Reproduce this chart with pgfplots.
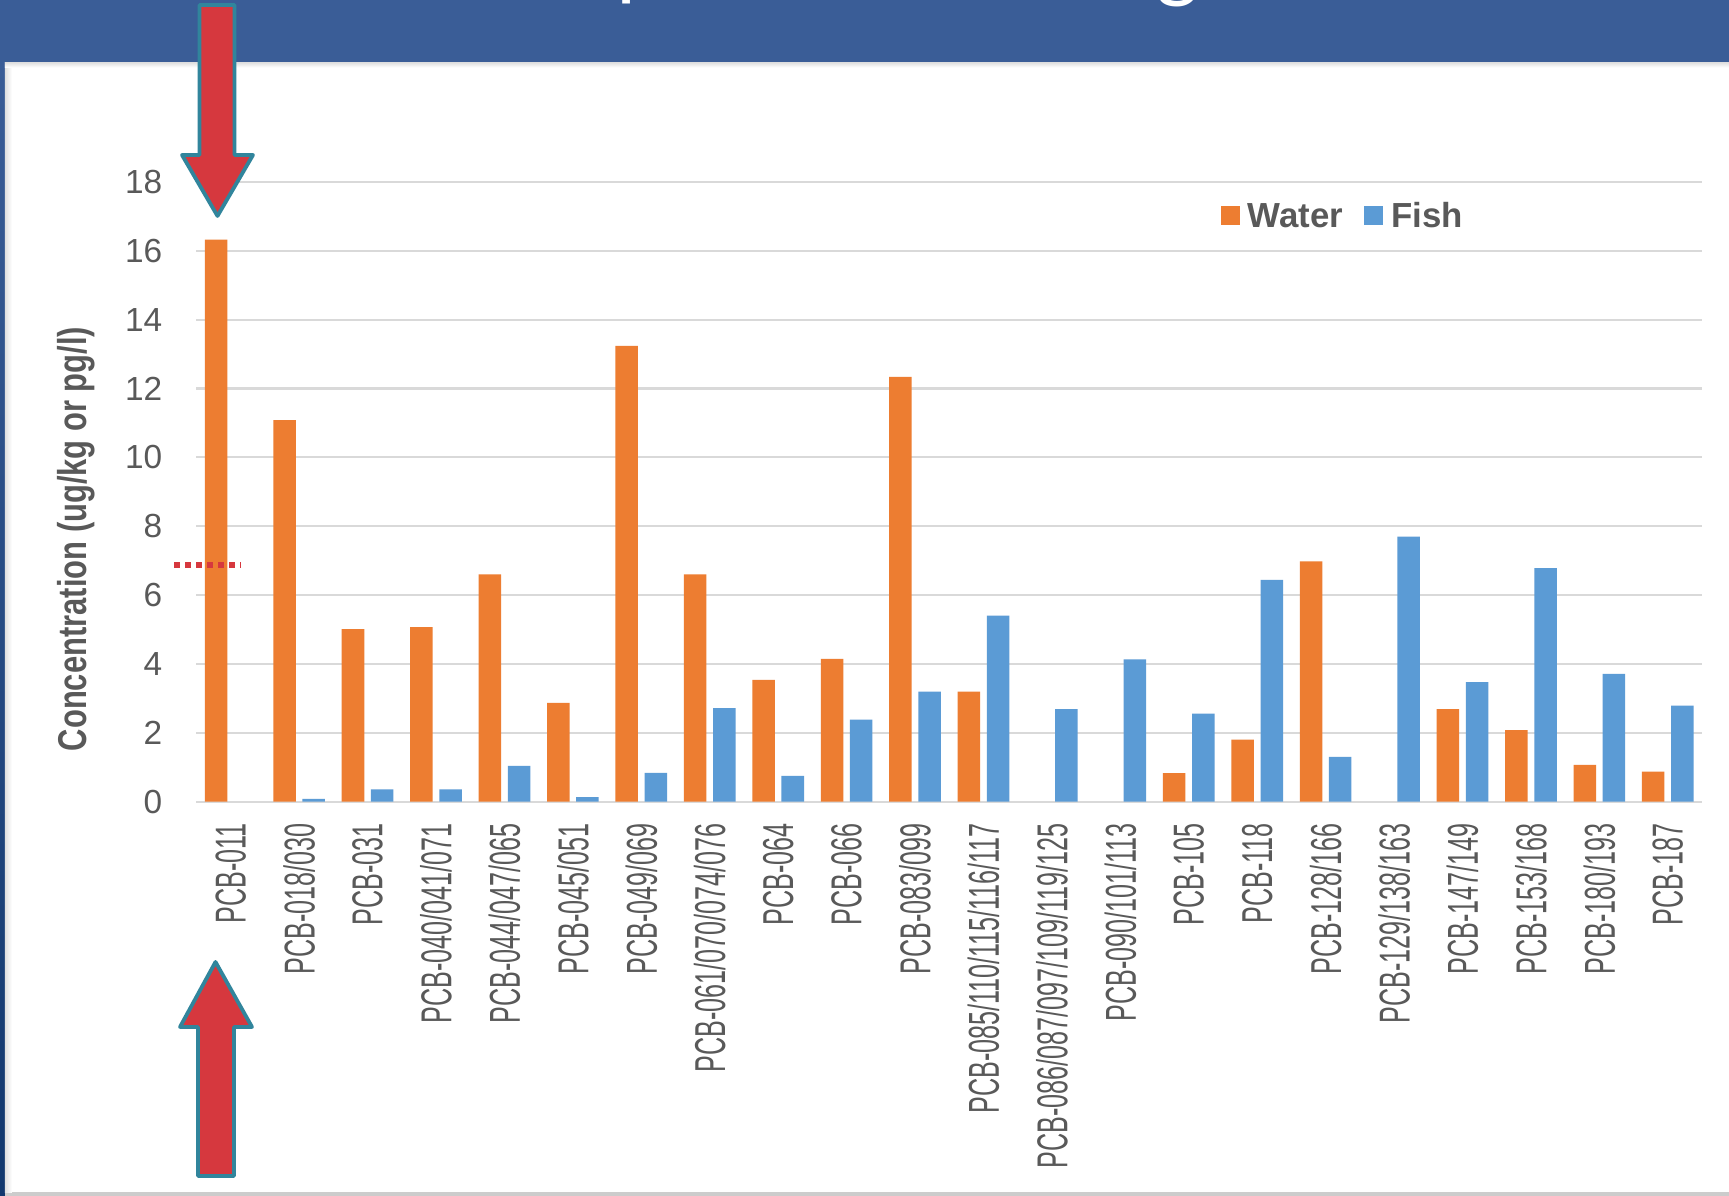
\documentclass[border=0pt]{standalone}
\usepackage{fontspec}
\setmainfont{Liberation Sans}
\newfontfamily\titlefont{Carlito}
\usepackage{graphicx}
\usepackage{pgfplots}
\pgfplotsset{compat=1.18}

\definecolor{slideblue}{HTML}{3A5D97}
\definecolor{slidenavy}{HTML}{12386E}
\definecolor{waterorange}{HTML}{ED7D31}
\definecolor{fishblue}{HTML}{5B9BD5}
\definecolor{gridgrey}{HTML}{D9D9D9}
\definecolor{labelgrey}{HTML}{595959}
\definecolor{arrowred}{HTML}{D6383E}
\definecolor{arrowteal}{HTML}{31859C}

% congener names are set tall and narrow
\newcommand\xl[1]{\scalebox{1}[1.72]{#1}}

\begin{document}
\begin{tikzpicture}[x=1mm,y=1mm]
\useasboundingbox (0,0) rectangle (172.9,119.6);
\clip (0,0) rectangle (172.9,119.6);

% slide background and white content panel
\fill[slideblue] (0,0) rectangle (172.9,119.6);
\shade[top color=slideblue, bottom color=slidenavy] (0,0) rectangle (0.5,113.4);
\fill[black!20] (0.5,0) rectangle (172.9,0.35);
\fill[white] (0.5,0.35) rectangle (172.9,113.33);
\shade[left color=black!12, right color=white] (0.5,0.35) rectangle (1.2,113.33);
\shade[top color=black!12, bottom color=white] (0.5,112.85) rectangle (172.9,113.33);

% slide title (only its lowest strokes fall inside the frame)
\node[anchor=base west, inner sep=0pt, text=white, font=\titlefont\fontsize{25.6}{30}\selectfont] at (61.6,120.6) {p};
\node[anchor=base west, inner sep=0pt, text=white, font=\titlefont\fontsize{25.6}{30}\selectfont] at (115.6,120.4) {g};

\begin{axis}[
  at={(19.65mm,39.43mm)}, anchor=south west,
  scale only axis, width=150.55mm, height=61.98mm,
  xmin=-0.5, xmax=21.5, ymin=0, ymax=18,
  axis line style={draw=none},
  major tick length=0pt,
  ytick={0,2,...,18},
  ymajorgrids, grid style={gridgrey, line width=0.22mm},
  xtick={0,...,21},
  xticklabels={\xl{PCB-011},\xl{PCB-018/030},\xl{PCB-031},\xl{PCB-040/041/071},
    \xl{PCB-044/047/065},\xl{PCB-045/051},\xl{PCB-049/069},\xl{PCB-061/070/074/076},
    \xl{PCB-064},\xl{PCB-066},\xl{PCB-083/099},\xl{PCB-085/110/115/116/117},
    \xl{PCB-086/087/097/109/119/125},\xl{PCB-090/101/113},\xl{PCB-105},\xl{PCB-118},
    \xl{PCB-128/166},\xl{PCB-129/138/163},\xl{PCB-147/149},\xl{PCB-153/168},
    \xl{PCB-180/193},\xl{PCB-187}},
  x tick label style={yshift=-2.1mm, rotate=90, anchor=east, inner sep=0pt,
    font=\fontsize{7.15}{8}\selectfont, text=labelgrey},
  y tick label style={xshift=-3.35mm, anchor=east, inner sep=0pt,
    font=\fontsize{9.5}{10}\selectfont, text=labelgrey},
  /pgf/number format/assume math mode=true,
  ylabel={\scalebox{1}[1.3]{Concentration (ug/kg or pg/l)}},
  ylabel style={at={(rel axis cs:-0.0797,0.4239)}, anchor=center, inner sep=0pt,
    font=\bfseries\fontsize{8.8}{10}\selectfont, text=labelgrey},
  legend columns=2,
  legend style={at={(rel axis cs:0.6805,0.9418)}, anchor=west, draw=none, fill=none,
    inner sep=0pt, outer sep=0pt, font=\bfseries\fontsize{9.9}{11}\selectfont,
    text=labelgrey, column sep=0.8mm,
    /tikz/every even column/.append style={column sep=2.1mm},
    nodes={inner sep=0pt}},
  legend image code/.code={\path[#1] (0mm,-0.75mm) rectangle (1.9mm,1.15mm);},
  clip=false,
]
% water concentrations (pg/l)
\addplot[ybar, bar width=0.329, bar shift=-0.213, fill=waterorange, draw=none]
  coordinates {(0,16.32) (1,11.08) (2,5.01) (3,5.07) (4,6.60) (5,2.87) (6,13.24)
    (7,6.60) (8,3.54) (9,4.15) (10,12.34) (11,3.20) (14,0.83) (15,1.80) (16,6.98)
    (18,2.69) (19,2.08) (20,1.07) (21,0.87)};
\addlegendentry{Water}
% fish concentrations (ug/kg)
\addplot[ybar, bar width=0.329, bar shift=0.213, fill=fishblue, draw=none]
  coordinates {(1,0.08) (2,0.36) (3,0.36) (4,1.04) (5,0.13) (6,0.84) (7,2.72)
    (8,0.75) (9,2.38) (10,3.20) (11,5.40) (12,2.69) (13,4.13) (14,2.56) (15,6.44)
    (16,1.30) (17,7.70) (18,3.47) (19,6.78) (20,3.71) (21,2.79)};
\addlegendentry{Fish}
% reference level marked at the left edge
\addplot[arrowred, line width=0.55mm, dash pattern=on 0.6mm off 0.5mm, forget plot]
  coordinates {(-0.825,6.88) (0.149,6.88)};
\end{axis}

% highlight arrows on the first congener
\draw[arrowteal, line width=0.38mm, line join=round, fill=arrowred]
  (19.95,119.1) -- (19.95,104.1) -- (18.2,104.1) -- (21.75,98.0) -- (25.3,104.1)
  -- (23.45,104.1) -- (23.45,119.1) -- cycle;
\draw[arrowteal, line width=0.38mm, line join=round, fill=arrowred]
  (21.55,23.4) -- (25.2,16.9) -- (23.4,16.9) -- (23.4,2.0) -- (19.8,2.0)
  -- (19.8,16.9) -- (18.0,16.9) -- cycle;
\end{tikzpicture}
\end{document}
